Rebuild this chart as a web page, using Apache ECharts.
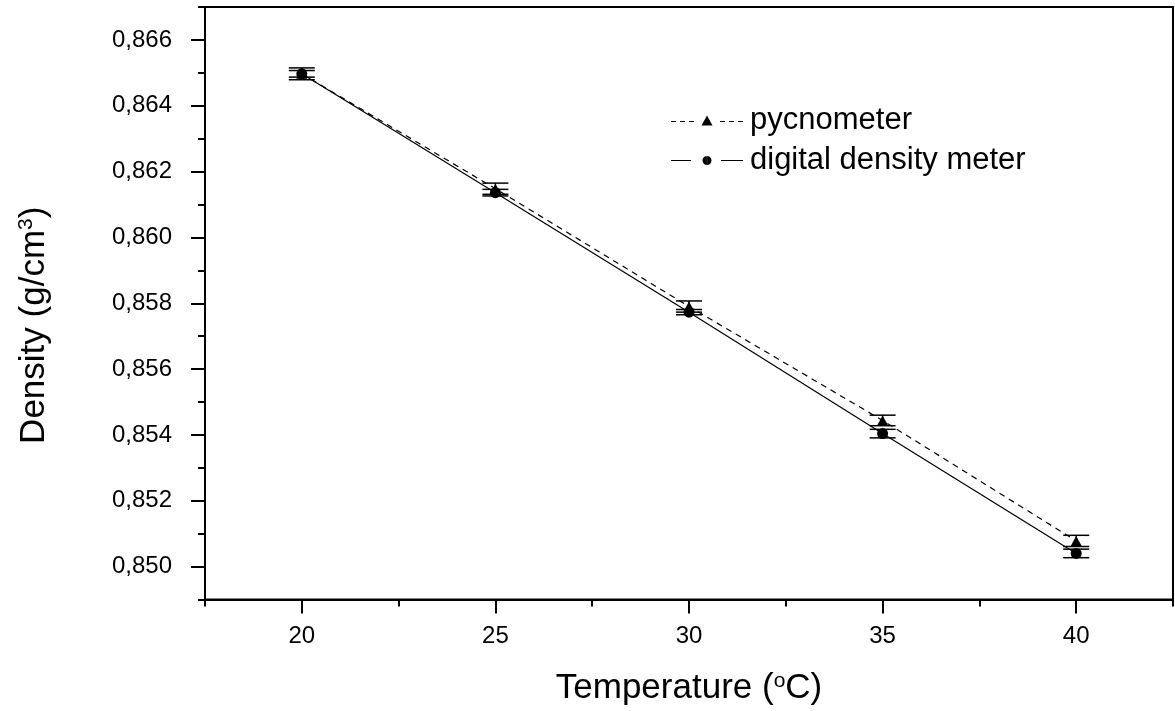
<!DOCTYPE html>
<html>
<head>
<meta charset="utf-8">
<script src="https://cdn.jsdelivr.net/npm/echarts@6/dist/echarts.min.js"></script>
<style>
html,body{margin:0;padding:0;background:#fff;}
#chart{width:1175px;height:711px;}
</style>
</head>
<body>
<div id="chart"></div>
<script>
const temperatures = [20, 25, 30, 35, 40];
const pycnometer = [0.86497, 0.86148, 0.85790, 0.85444, 0.85078];
const pycnometerErr = [0.00018, 0.00017, 0.00017, 0.00016, 0.00017];
const digital = [0.86497, 0.86136, 0.85773, 0.85404, 0.85040];
const digitalErr = [0.00010, 0.00010, 0.00008, 0.00013, 0.00013];
const seriesNames = ['pycnometer', 'digital density meter'];

const FONT = '"Liberation Sans", Arial, sans-serif';

// legend glyphs: "- - ▲ - -" and "— ● —" (72 x 10 box)
function rect(x0, x1, y0, y1) { return 'M' + x0 + ',' + y0 + 'L' + x1 + ',' + y0 + 'L' + x1 + ',' + y1 + 'L' + x0 + ',' + y1 + 'Z'; }
const ICON_PYC = 'path://' +
  rect(0, 5, 5.4, 6.6) + rect(9, 14, 5.4, 6.6) + rect(18, 23, 5.4, 6.6) +
  'M36,0L41.5,10L30.5,10Z' +
  rect(49, 54, 5.4, 6.6) + rect(58, 63, 5.4, 6.6) + rect(67, 72, 5.4, 6.6);
const ICON_DIG = 'path://' +
  rect(0, 20, 4.4, 5.6) +
  'M31.5,5A4.5,4.5 0 1,0 40.5,5A4.5,4.5 0 1,0 31.5,5Z' +
  rect(50, 72, 4.4, 5.6) + rect(35.9, 36.1, 0, 10);

function pairs(ys) { return temperatures.map((t, i) => [t, ys[i]]); }
function errData(ys, es) { return temperatures.map((t, i) => [t, ys[i] - es[i], ys[i] + es[i]]); }

function errRender(params, api) {
  const x = api.value(0);
  const top = api.coord([x, api.value(2)]);
  const bot = api.coord([x, api.value(1)]);
  const hw = 13;
  const st = { stroke: '#000', lineWidth: 1.5 };
  return {
    type: 'group',
    children: [
      { type: 'line', shape: { x1: top[0], y1: top[1], x2: bot[0], y2: bot[1] }, style: st },
      { type: 'line', shape: { x1: top[0] - hw, y1: top[1], x2: top[0] + hw, y2: top[1] }, style: st },
      { type: 'line', shape: { x1: bot[0] - hw, y1: bot[1], x2: bot[0] + hw, y2: bot[1] }, style: st }
    ]
  };
}

const chart = echarts.init(document.getElementById('chart'), null, { renderer: 'canvas' });
chart.setOption({
  animation: false,
  backgroundColor: '#fff',
  grid: { left: 205, right: 2, top: 7, bottom: 111, show: true, borderColor: '#000', borderWidth: 2, backgroundColor: 'transparent' },
  legend: {
    data: [
      { name: seriesNames[0], icon: ICON_PYC },
      { name: seriesNames[1], icon: ICON_DIG }
    ],
    orient: 'vertical',
    left: 666,
    top: 100,
    itemWidth: 72,
    itemHeight: 10,
    itemGap: 9,
    symbolKeepAspect: false,
    itemStyle: { color: '#000', borderWidth: 0 },
    textStyle: { fontFamily: FONT, fontSize: 31, color: '#000', padding: [0, 0, 0, 2] }
  },
  xAxis: [
    {
      type: 'value', min: 17.5, max: 42.5, interval: 5,
      axisLine: { show: true, lineStyle: { color: '#000', width: 2 } },
      axisTick: { show: true, inside: false, length: 7, lineStyle: { color: '#000', width: 2 } },
      minorTick: { show: true, splitNumber: 2, length: 14, lineStyle: { color: '#000', width: 2 } },
      axisLabel: { show: false },
      splitLine: { show: false }
    },
    {
      type: 'value', min: 17.5, max: 42.5, interval: 2.5, position: 'bottom',
      axisLine: { show: false }, axisTick: { show: false }, splitLine: { show: false },
      axisLabel: {
        margin: 25, color: '#000', fontFamily: FONT, fontSize: 24,
        showMinLabel: false, showMaxLabel: false,
        formatter: v => (Math.abs(v % 5) < 1e-6 ? String(v) : '')
      },
      name: '{a|Temperature (}{s|o}{a|C)}',
      nameLocation: 'middle', nameGap: 71,
      nameTextStyle: {
        rich: {
          a: { fontFamily: FONT, fontSize: 35, color: '#000' },
          s: { fontFamily: FONT, fontSize: 21, color: '#000', verticalAlign: 'top', padding: [0, 0, 15, 0] }
        }
      }
    }
  ],
  yAxis: [
    {
      type: 'value', min: 0.849, max: 0.867, interval: 0.002,
      axisLine: { show: true, lineStyle: { color: '#000', width: 2 } },
      axisTick: { show: true, inside: false, length: 7, lineStyle: { color: '#000', width: 2 } },
      minorTick: { show: true, splitNumber: 2, length: 14, lineStyle: { color: '#000', width: 2 } },
      axisLabel: { show: false },
      splitLine: { show: false }
    },
    {
      type: 'value', min: 0.849, max: 0.867, interval: 0.001, position: 'left',
      axisLine: { show: false }, axisTick: { show: false }, splitLine: { show: false },
      axisLabel: {
        margin: 33, color: '#000', fontFamily: FONT, fontSize: 24,
        showMinLabel: false, showMaxLabel: false,
        formatter: v => { const k = Math.round(v * 1000); return k % 2 === 0 ? v.toFixed(3).replace('.', ',') : ''; }
      },
      name: '{a|Density (g/cm}{s|3}{a|)}',
      nameLocation: 'middle', nameGap: 153, nameRotate: 90,
      nameTextStyle: {
        padding: [0, 44, 0, 0],
        rich: {
          a: { fontFamily: FONT, fontSize: 35, color: '#000' },
          s: { fontFamily: FONT, fontSize: 21, color: '#000', verticalAlign: 'top', padding: [0, 0, 15, 0] }
        }
      }
    }
  ],
  series: [
    {
      name: 'pycnometer err', type: 'custom', renderItem: errRender,
      data: errData(pycnometer, pycnometerErr), encode: { x: 0, y: [1, 2] }, z: 3, silent: true
    },
    {
      name: 'digital err', type: 'custom', renderItem: errRender,
      data: errData(digital, digitalErr), encode: { x: 0, y: [1, 2] }, z: 3, silent: true
    },
    {
      name: seriesNames[0], type: 'line', data: pairs(pycnometer),
      symbol: 'triangle', symbolSize: [11, 10],
      itemStyle: { color: '#000' },
      lineStyle: { color: '#000', width: 1.2, type: [6, 5] },
      z: 4
    },
    {
      name: seriesNames[1], type: 'line', data: pairs(digital),
      symbol: 'circle', symbolSize: 11,
      itemStyle: { color: '#000' },
      lineStyle: { color: '#000', width: 1.2, type: 'solid' },
      z: 5
    }
  ]
});
</script>
</body>
</html>
